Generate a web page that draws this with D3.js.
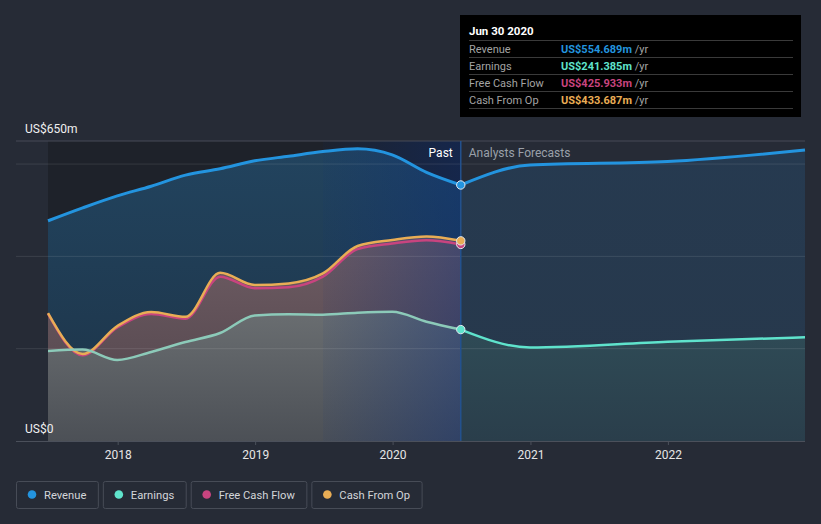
<!DOCTYPE html>
<html><head><meta charset="utf-8">
<script src="https://cdn.jsdelivr.net/npm/d3@7"></script>
<style>
html,body{margin:0;padding:0;background:#262b36;}
svg{display:block;font-family:Roboto,"Noto Sans",sans-serif;}
</style></head><body>
<svg id="c" width="821" height="524"></svg>
<script>
// ---- data ----
const pastDates = ["2017-06-30","2017-09-30","2017-12-31","2018-03-31","2018-06-30","2018-09-30","2018-12-31","2019-03-31","2019-06-30","2019-09-30","2019-12-31","2020-03-31","2020-06-30"];
const revenue      = [477, 505, 531, 552, 576, 590, 607, 617, 627, 633, 620, 582, 554.689];
const earnings     = [195, 198, 175.5, 193, 214.5, 234, 272, 274.5, 273.7, 278, 280, 258.5, 241.385];
const freeCashFlow = [276, 186, 246, 275, 265, 356, 331, 333, 356, 416, 428, 435, 425.933];
const cashFromOp   = [277, 188.5, 249, 279.5, 269, 364.5, 338, 341.5, 363, 422.5, 435.5, 443, 433.687];
const forecastDates    = ["2020-06-30","2020-12-31","2021-12-31","2022-12-31"];
const revenueForecast  = [554.689, 598, 605.6, 630.5];
const earningsForecast = [241.385, 202.6, 215, 224.7];
const gridValues = [200, 400, 600];
const yLabelValues = [0, 650];
const yLabelTexts = ["US$0", "US$650m"];
const xTickYears = [2018, 2019, 2020, 2021, 2022];
const seriesNames  = ["Revenue", "Earnings", "Free Cash Flow", "Cash From Op"];
const seriesColors = ["#2394df", "#5fe3cc", "#c8447f", "#e9ad55"];
const tooltipDate = "Jun 30 2020";
const tooltipValues = ["US$554.689m", "US$241.385m", "US$425.933m", "US$433.687m"];
const highlightStart = "2019-06-30";
const pastEnd = "2020-06-30";

// ---- setup ----
const parse = d3.timeParse("%Y-%m-%d");
const svg = d3.select("#c");
const W = 821, H = 524;
const x = d3.scaleTime().domain([parse("2017-06-30"), parse("2022-12-31")]).range([48, 805]);
const y = d3.scaleLinear().domain([0, 650]).range([441, 141]);
const plotLeft = 16, plotRight = 805;

const past = pastDates.map((d, i) => ({d: parse(d), rev: revenue[i], earn: earnings[i], fcf: freeCashFlow[i], cfo: cashFromOp[i]}));
const fut = forecastDates.map((d, i) => ({d: parse(d), rev: revenueForecast[i], earn: earningsForecast[i]}));
const curve = d3.curveMonotoneX;

const defs = svg.append("defs");
function vgrad(id, y1, y2, c1, c2) {
  const g = defs.append("linearGradient").attr("id", id).attr("gradientUnits", "userSpaceOnUse")
    .attr("x1", 0).attr("x2", 0).attr("y1", y1).attr("y2", y2);
  g.append("stop").attr("offset", 0).attr("stop-color", c1);
  g.append("stop").attr("offset", 1).attr("stop-color", c2);
}
vgrad("gRevPast", 141, 441, "#22445f", "#1d3347");
vgrad("gCfoPast", 240, 441, "#6e5c63", "#4e4249");
vgrad("gEarnPast", 310, 441, "#6a6e71", "#4c5056");
vgrad("gRevFut", 141, 441, "#263a50", "#27384b");
vgrad("gEarnFut", 330, 441, "#2f4b56", "#2a3e4b");
const hg = defs.append("linearGradient").attr("id", "gHi").attr("x1", 0).attr("x2", 1).attr("y1", 0).attr("y2", 0);
hg.append("stop").attr("offset", 0).attr("stop-color", "rgb(8,45,125)").attr("stop-opacity", 0.06);
hg.append("stop").attr("offset", 1).attr("stop-color", "rgb(8,45,125)").attr("stop-opacity", 0.4);

svg.append("rect").attr("width", W).attr("height", H).attr("fill", "#262b36");

// past dark background
svg.append("rect").attr("x", x(past[0].d)).attr("y", y(650))
  .attr("width", x(parse(pastEnd)) - x(past[0].d)).attr("height", y(0) - y(650)).attr("fill", "#1e222a");

const area = key => d3.area().x(d => x(d.d)).y0(y(0)).y1(d => y(d[key])).curve(curve);
const line = key => d3.line().x(d => x(d.d)).y(d => y(d[key])).curve(curve);

// past fills
svg.append("path").datum(past).attr("d", area("rev")).attr("fill", "url(#gRevPast)");
svg.append("path").datum(past).attr("d", area("cfo")).attr("fill", "url(#gCfoPast)");
svg.append("path").datum(past).attr("d", area("earn")).attr("fill", "url(#gEarnPast)");
// forecast fills
svg.append("path").datum(fut).attr("d", area("rev")).attr("fill", "url(#gRevFut)");
svg.append("path").datum(fut).attr("d", area("earn")).attr("fill", "url(#gEarnFut)");

// highlight band (last 12 months)
svg.append("rect").attr("x", x(parse(highlightStart))).attr("y", y(650))
  .attr("width", x(parse(pastEnd)) - x(parse(highlightStart))).attr("height", y(0) - y(650))
  .attr("fill", "url(#gHi)");

// grid
svg.selectAll("line.grid").data(gridValues).enter().append("line")
  .attr("x1", plotLeft).attr("x2", plotRight).attr("y1", d => y(d)).attr("y2", d => y(d))
  .attr("stroke", "rgba(255,255,255,0.1)").attr("stroke-width", 1);
svg.append("line").attr("x1", plotLeft).attr("x2", plotRight).attr("y1", y(650)).attr("y2", y(650))
  .attr("stroke", "#464b56").attr("stroke-width", 1);

// x axis
const xAxis = svg.append("g").attr("transform", `translate(0,${y(0)})`)
  .call(d3.axisBottom(x).tickValues(xTickYears.map(v => new Date(v, 0, 1))).tickFormat(d3.timeFormat("%Y")).tickSize(4).tickPadding(5));
xAxis.select(".domain").remove();
xAxis.selectAll(".tick line").attr("stroke", "#4b505b");
xAxis.selectAll(".tick text").attr("fill", "#e6e6e6").attr("font-size", 12).attr("font-family", "Roboto,sans-serif");
svg.append("line").attr("x1", plotLeft).attr("x2", plotRight).attr("y1", y(0) + 0.5).attr("y2", y(0) + 0.5)
  .attr("stroke", "#4b505b").attr("stroke-width", 1);

// divider at now
svg.append("line").attr("x1", x(parse(pastEnd))).attr("x2", x(parse(pastEnd))).attr("y1", y(650)).attr("y2", y(0))
  .attr("stroke", "#24528e").attr("stroke-width", 1.5);

// lines
svg.append("path").datum(past).attr("d", line("fcf")).attr("fill", "none").attr("stroke", seriesColors[2]).attr("stroke-width", 2.5);
svg.append("path").datum(past).attr("d", line("cfo")).attr("fill", "none").attr("stroke", seriesColors[3]).attr("stroke-width", 2.5);
svg.append("path").datum(past).attr("d", line("earn")).attr("fill", "none").attr("stroke", "#8ccab9").attr("stroke-width", 2.5);
svg.append("path").datum(fut).attr("d", line("earn")).attr("fill", "none").attr("stroke", seriesColors[1]).attr("stroke-width", 2.5);
svg.append("path").datum(past).attr("d", line("rev")).attr("fill", "none").attr("stroke", seriesColors[0]).attr("stroke-width", 3);
svg.append("path").datum(fut).attr("d", line("rev")).attr("fill", "none").attr("stroke", seriesColors[0]).attr("stroke-width", 3);

// dots at last actual
const last = past[past.length - 1];
[["rev", 0], ["earn", 1], ["fcf", 2], ["cfo", 3]].forEach(([k, i]) => {
  svg.append("circle").attr("cx", x(last.d)).attr("cy", y(last[k])).attr("r", 4.2)
    .attr("fill", seriesColors[i]).attr("stroke", "#e6e9ee").attr("stroke-width", 1);
});

// y labels
svg.selectAll("text.ylab").data(yLabelValues).enter().append("text")
  .attr("x", 25).attr("y", d => y(d) - 8)
  .attr("fill", "#f0f0f0").attr("font-size", 12).text((d, i) => yLabelTexts[i]);

// past / forecast labels
svg.append("text").attr("x", x(parse(pastEnd)) - 8).attr("y", 157).attr("text-anchor", "end")
  .attr("fill", "#ffffff").attr("font-size", 12).text("Past");
svg.append("text").attr("x", x(parse(pastEnd)) + 8).attr("y", 157)
  .attr("fill", "#9aa0a9").attr("font-size", 12).text("Analysts Forecasts");

// tooltip
const tt = svg.append("g");
tt.append("rect").attr("x", 460).attr("y", 15).attr("width", 341).attr("height", 102).attr("fill", "#000");
tt.append("text").attr("x", 469).attr("y", 35).attr("fill", "#fff").attr("font-size", 11.5).attr("font-weight", "bold").text(tooltipDate);
const rowY = [40.5, 57.5, 74.5, 91.5, 108.5];
rowY.forEach(v => tt.append("line").attr("x1", 469).attr("x2", 793).attr("y1", v).attr("y2", v).attr("stroke", "#3a3a3a").attr("stroke-width", 1));
seriesNames.forEach((n, i) => {
  const ty = rowY[i] + 12.5;
  tt.append("text").attr("x", 469).attr("y", ty).attr("fill", "#a3a3a3").attr("font-size", 11).text(n);
  const t = tt.append("text").attr("x", 561).attr("y", ty).attr("font-size", 11);
  t.append("tspan").attr("fill", seriesColors[i]).attr("font-weight", "bold").text(tooltipValues[i]);
  t.append("tspan").attr("fill", "#a3a3a3").text(" /yr");
});

// legend
let lx = 16.5;
seriesNames.forEach((n, i) => {
  const g = svg.append("g");
  const r = g.append("rect").attr("x", lx).attr("y", 481.5).attr("height", 27).attr("rx", 2)
    .attr("fill", "none").attr("stroke", "#474c57").attr("stroke-width", 1);
  g.append("circle").attr("cx", lx + 15.5).attr("cy", 494.5).attr("r", 4.3).attr("fill", seriesColors[i]);
  const t = g.append("text").attr("x", lx + 27.5).attr("y", 498.5).attr("fill", "#d3d5d9").attr("font-size", 11.2).text(n);
  const w = t.node().getComputedTextLength();
  const bw = 27.5 + w + 12;
  r.attr("width", bw);
  lx += bw + 5;
});
</script>
</body></html>
